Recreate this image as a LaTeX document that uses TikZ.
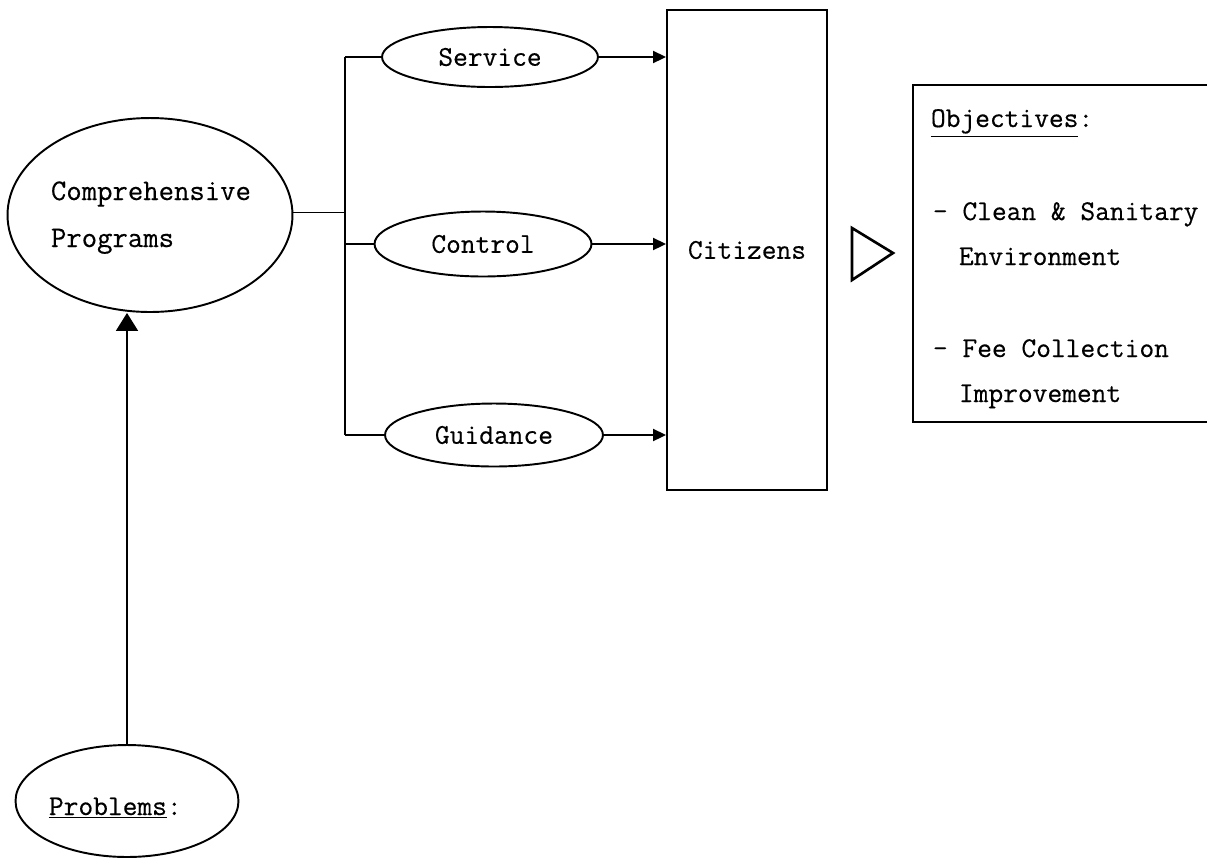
\documentclass[tikz,border=0pt]{standalone}
\usepackage{fontspec}
\setmonofont{Latin Modern Mono}[FakeBold=0.4]
\usetikzlibrary{arrows.meta,shapes.geometric}
\tikzset{
  oval/.style={draw, ellipse, line width=1.1pt, inner sep=0pt},
  txt/.style={font=\fontsize{16.3}{26}\selectfont\ttfamily, inner sep=0pt},
  bigtxt/.style={font=\fontsize{17}{26}\selectfont\ttfamily, inner sep=0pt},
  tip/.style={-{Triangle[length=0.26cm,width=0.24cm]}},
  uptip/.style={-{Triangle[length=0.36cm,width=0.44cm]}},
  boxed/.style={draw, line width=1.1pt, inner sep=0pt},
}
\begin{document}
\begin{tikzpicture}[x=0.02cm,y=-0.02cm,line width=1.1pt]
\useasboundingbox (0,0) rectangle (1207,860);
% left column
\node[oval, minimum width=5.7cm, minimum height=3.88cm] (cp) at (150,215) {};
\node[bigtxt, anchor=base west] (cp1) at (50,200) {Comprehensive};
\node[bigtxt, anchor=base west] (cp2) at (50,247) {Programs};
\node[oval, minimum width=4.46cm, minimum height=2.24cm] (pr) at (127,801) {};
\node[txt, anchor=base west] (prt) at (48,815) {\underline{Problems}:};
% middle ellipses
\node[oval, txt, minimum width=4.32cm, minimum height=1.2cm] (sv) at (490,57) {Service};
\node[oval, txt, minimum width=4.34cm, minimum height=1.3cm] (ct) at (483,244) {Control};
\node[oval, txt, minimum width=4.36cm, minimum height=1.26cm] (gd) at (494,435) {Guidance};
% citizens
\node[boxed, txt, minimum width=3.2cm, minimum height=9.6cm] (cit) at (747,250) {Citizens};
% objectives
\node[boxed, minimum width=6.04cm, minimum height=6.74cm] (ob) at (1064,253.5) {};
\node[txt, anchor=base west] (o0) at (930,127) {\underline{Objectives}:};
\node[txt, anchor=base west] (o1) at (932,220) {- Clean \& Sanitary};
\node[txt, anchor=base west] (o2) at (958,265) {Environment};
\node[txt, anchor=base west] (o3) at (932,357) {- Fee Collection};
\node[txt, anchor=base west] (o4) at (958,402) {Improvement};
% big hollow triangle
\draw[line width=1.5pt, line join=miter] (852,228) -- (852,280) -- (893,253) -- cycle;
% connectors
\coordinate (bt) at (345,57);
\coordinate (bb) at (345,435);
\draw (bt) -- (bb);
\draw (cp.1) -- (cp.1 -| bt);
\draw (bt) -- (sv.west);
\draw (bt |- ct.west) -- (ct.west);
\draw (bb) -- (gd.west);
\draw[tip] (sv.east) -- (sv.east -| cit.west);
\draw[tip] (ct.east) -- (ct.east -| cit.west);
\draw[tip] (gd.east) -- (gd.east -| cit.west);
\draw[uptip] (pr.north) -- (pr.north |- cp.south);
\end{tikzpicture}
\end{document}
